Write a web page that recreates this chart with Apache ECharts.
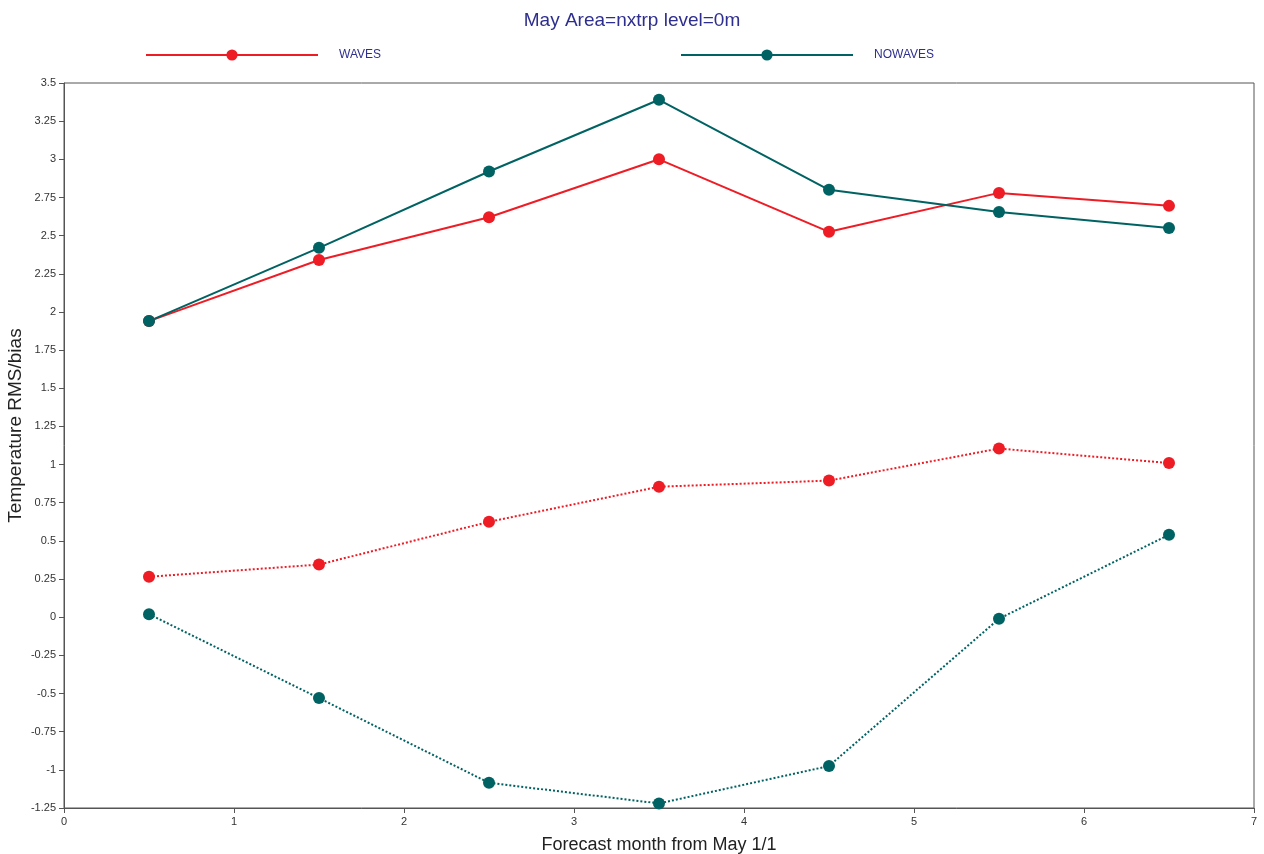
<!DOCTYPE html>
<html><head><meta charset="utf-8">
<script src="https://cdn.jsdelivr.net/npm/echarts@6/dist/echarts.min.js"></script>
<style>html,body{margin:0;padding:0;background:#fff}#c{width:1264px;height:854px}</style>
</head><body><div id="c"></div>
<script>
var months = [0.5, 1.5, 2.5, 3.5, 4.5, 5.5, 6.5];
var wavesRms = [1.94, 2.34, 2.62, 3.00, 2.525, 2.78, 2.695];
var nowavesRms = [1.94, 2.42, 2.92, 3.39, 2.80, 2.655, 2.55];
var wavesBias = [0.265, 0.345, 0.625, 0.855, 0.895, 1.105, 1.01];
var nowavesBias = [0.02, -0.53, -1.085, -1.22, -0.975, -0.01, 0.54];
var red = '#ee1c25', teal = '#006262';
function pts(v){ return months.map(function(m,i){return [m, v[i]];}); }
function ser(name, data, color, type){
  return {name:name, type:'line', data:pts(data), symbol:'circle', symbolSize:12,
    itemStyle:{color:color}, lineStyle:{color:color, width:2, type:type}, z: type==='solid'?3:2};
}
var chart = echarts.init(document.getElementById('c'));
chart.setOption({
  animation:false,
  title:{text:'May Area=nxtrp level=0m', left:'center', top:6,
    textStyle:{color:'#2e2e8f', fontSize:19, fontWeight:'normal', fontFamily:'Liberation Sans'}},
  legend:[
    {data:['WAVES'], left:145, top:49, padding:0, itemWidth:172, itemHeight:14,
      textStyle:{color:'#2e2e8f', fontSize:12, fontFamily:'Liberation Sans', padding:[0,0,0,16]}},
    {data:['NOWAVES'], left:680, top:49, padding:0, itemWidth:172, itemHeight:14,
      textStyle:{color:'#2e2e8f', fontSize:12, fontFamily:'Liberation Sans', padding:[0,0,0,16]}}
  ],
  grid:{left:64, right:10, top:83, bottom:46, show:true, borderColor:'#555', borderWidth:1,
    containLabel:false, outerBoundsMode:'none'},
  xAxis:{type:'value', min:0, max:7, interval:1, name:'Forecast month from May 1/1',
    nameLocation:'middle', nameGap:28,
    nameTextStyle:{color:'#222', fontSize:18, fontFamily:'Liberation Sans'},
    axisLine:{onZero:false, lineStyle:{color:'#555'}}, axisTick:{length:5, lineStyle:{color:'#555'}},
    axisLabel:{color:'#333', fontSize:11, fontFamily:'Liberation Sans', margin:8},
    splitLine:{show:false}},
  yAxis:{type:'value', min:-1.25, max:3.5, interval:0.25, name:'Temperature RMS/bias',
    nameLocation:'middle', nameGap:39, nameMoveOverlap:false,
    nameTextStyle:{color:'#222', fontSize:19, fontFamily:'Liberation Sans', padding:[0,0,0,40]},
    axisLine:{show:true, onZero:false, lineStyle:{color:'#555'}}, axisTick:{show:true, length:5, lineStyle:{color:'#555'}},
    axisLabel:{color:'#333', fontSize:11, fontFamily:'Liberation Sans', margin:8},
    splitLine:{show:false}},
  series:[
    ser('WAVES', wavesRms, red, 'solid'),
    ser('NOWAVES', nowavesRms, teal, 'solid'),
    ser('WAVES bias', wavesBias, red, 'dotted'),
    ser('NOWAVES bias', nowavesBias, teal, 'dotted')
  ]
});
</script></body></html>
